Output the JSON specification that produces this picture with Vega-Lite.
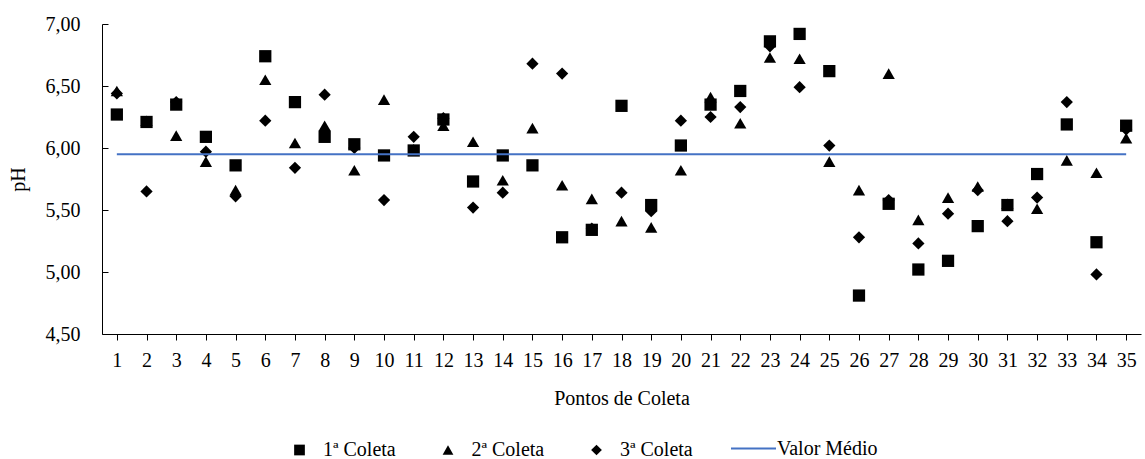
{
  "$schema": "https://vega.github.io/schema/vega-lite/v6.json",
  "width": 1039,
  "height": 310,
  "autosize": {"type": "none"},
  "padding": {"left": 102, "top": 24, "right": 4, "bottom": 125},
  "config": {
    "font": "Liberation Serif, serif",
    "view": {"stroke": null},
    "axis": {
      "grid": false,
      "domainColor": "black",
      "tickColor": "black",
      "labelColor": "black",
      "titleColor": "black",
      "labelFontSize": 20,
      "titleFontSize": 20,
      "titleFontWeight": "normal",
      "labelFont": "Liberation Serif, serif",
      "titleFont": "Liberation Serif, serif"
    },
    "legend": {
      "labelFont": "Liberation Serif, serif",
      "labelFontSize": 20,
      "labelColor": "black",
      "labelLimit": 300
    }
  },
  "layer": [
    {
      "data": {
        "values": [
          {"ponto": 1, "coleta": "1ª Coleta", "ph": 6.27}, {"ponto": 1, "coleta": "2ª Coleta", "ph": 6.46}, {"ponto": 1, "coleta": "3ª Coleta", "ph": 6.44},
          {"ponto": 2, "coleta": "1ª Coleta", "ph": 6.21}, {"ponto": 2, "coleta": "2ª Coleta", "ph": 6.22}, {"ponto": 2, "coleta": "3ª Coleta", "ph": 5.65},
          {"ponto": 3, "coleta": "1ª Coleta", "ph": 6.35}, {"ponto": 3, "coleta": "2ª Coleta", "ph": 6.10}, {"ponto": 3, "coleta": "3ª Coleta", "ph": 6.37},
          {"ponto": 4, "coleta": "1ª Coleta", "ph": 6.09}, {"ponto": 4, "coleta": "2ª Coleta", "ph": 5.89}, {"ponto": 4, "coleta": "3ª Coleta", "ph": 5.97},
          {"ponto": 5, "coleta": "1ª Coleta", "ph": 5.86}, {"ponto": 5, "coleta": "2ª Coleta", "ph": 5.66}, {"ponto": 5, "coleta": "3ª Coleta", "ph": 5.61},
          {"ponto": 6, "coleta": "1ª Coleta", "ph": 6.74}, {"ponto": 6, "coleta": "2ª Coleta", "ph": 6.55}, {"ponto": 6, "coleta": "3ª Coleta", "ph": 6.22},
          {"ponto": 7, "coleta": "1ª Coleta", "ph": 6.37}, {"ponto": 7, "coleta": "2ª Coleta", "ph": 6.04}, {"ponto": 7, "coleta": "3ª Coleta", "ph": 5.84},
          {"ponto": 8, "coleta": "1ª Coleta", "ph": 6.09}, {"ponto": 8, "coleta": "2ª Coleta", "ph": 6.18}, {"ponto": 8, "coleta": "3ª Coleta", "ph": 6.43},
          {"ponto": 9, "coleta": "1ª Coleta", "ph": 6.03}, {"ponto": 9, "coleta": "2ª Coleta", "ph": 5.82}, {"ponto": 9, "coleta": "3ª Coleta", "ph": 6.00},
          {"ponto": 10, "coleta": "1ª Coleta", "ph": 5.94}, {"ponto": 10, "coleta": "2ª Coleta", "ph": 6.39}, {"ponto": 10, "coleta": "3ª Coleta", "ph": 5.58},
          {"ponto": 11, "coleta": "1ª Coleta", "ph": 5.98}, {"ponto": 11, "coleta": "2ª Coleta", "ph": 5.99}, {"ponto": 11, "coleta": "3ª Coleta", "ph": 6.09},
          {"ponto": 12, "coleta": "1ª Coleta", "ph": 6.23}, {"ponto": 12, "coleta": "2ª Coleta", "ph": 6.18}, {"ponto": 12, "coleta": "3ª Coleta", "ph": 6.24},
          {"ponto": 13, "coleta": "1ª Coleta", "ph": 5.73}, {"ponto": 13, "coleta": "2ª Coleta", "ph": 6.05}, {"ponto": 13, "coleta": "3ª Coleta", "ph": 5.52},
          {"ponto": 14, "coleta": "1ª Coleta", "ph": 5.94}, {"ponto": 14, "coleta": "2ª Coleta", "ph": 5.74}, {"ponto": 14, "coleta": "3ª Coleta", "ph": 5.64},
          {"ponto": 15, "coleta": "1ª Coleta", "ph": 5.86}, {"ponto": 15, "coleta": "2ª Coleta", "ph": 6.16}, {"ponto": 15, "coleta": "3ª Coleta", "ph": 6.68},
          {"ponto": 16, "coleta": "1ª Coleta", "ph": 5.28}, {"ponto": 16, "coleta": "2ª Coleta", "ph": 5.70}, {"ponto": 16, "coleta": "3ª Coleta", "ph": 6.60},
          {"ponto": 17, "coleta": "1ª Coleta", "ph": 5.34}, {"ponto": 17, "coleta": "2ª Coleta", "ph": 5.59}, {"ponto": 17, "coleta": "3ª Coleta", "ph": 5.35},
          {"ponto": 18, "coleta": "1ª Coleta", "ph": 6.34}, {"ponto": 18, "coleta": "2ª Coleta", "ph": 5.41}, {"ponto": 18, "coleta": "3ª Coleta", "ph": 5.64},
          {"ponto": 19, "coleta": "1ª Coleta", "ph": 5.54}, {"ponto": 19, "coleta": "2ª Coleta", "ph": 5.36}, {"ponto": 19, "coleta": "3ª Coleta", "ph": 5.49},
          {"ponto": 20, "coleta": "1ª Coleta", "ph": 6.02}, {"ponto": 20, "coleta": "2ª Coleta", "ph": 5.82}, {"ponto": 20, "coleta": "3ª Coleta", "ph": 6.22},
          {"ponto": 21, "coleta": "1ª Coleta", "ph": 6.35}, {"ponto": 21, "coleta": "2ª Coleta", "ph": 6.41}, {"ponto": 21, "coleta": "3ª Coleta", "ph": 6.25},
          {"ponto": 22, "coleta": "1ª Coleta", "ph": 6.46}, {"ponto": 22, "coleta": "2ª Coleta", "ph": 6.20}, {"ponto": 22, "coleta": "3ª Coleta", "ph": 6.33},
          {"ponto": 23, "coleta": "1ª Coleta", "ph": 6.86}, {"ponto": 23, "coleta": "2ª Coleta", "ph": 6.73}, {"ponto": 23, "coleta": "3ª Coleta", "ph": 6.82},
          {"ponto": 24, "coleta": "1ª Coleta", "ph": 6.92}, {"ponto": 24, "coleta": "2ª Coleta", "ph": 6.72}, {"ponto": 24, "coleta": "3ª Coleta", "ph": 6.49},
          {"ponto": 25, "coleta": "1ª Coleta", "ph": 6.62}, {"ponto": 25, "coleta": "2ª Coleta", "ph": 5.89}, {"ponto": 25, "coleta": "3ª Coleta", "ph": 6.02},
          {"ponto": 26, "coleta": "1ª Coleta", "ph": 4.81}, {"ponto": 26, "coleta": "2ª Coleta", "ph": 5.66}, {"ponto": 26, "coleta": "3ª Coleta", "ph": 5.28},
          {"ponto": 27, "coleta": "1ª Coleta", "ph": 5.55}, {"ponto": 27, "coleta": "2ª Coleta", "ph": 6.60}, {"ponto": 27, "coleta": "3ª Coleta", "ph": 5.58},
          {"ponto": 28, "coleta": "1ª Coleta", "ph": 5.02}, {"ponto": 28, "coleta": "2ª Coleta", "ph": 5.42}, {"ponto": 28, "coleta": "3ª Coleta", "ph": 5.23},
          {"ponto": 29, "coleta": "1ª Coleta", "ph": 5.09}, {"ponto": 29, "coleta": "2ª Coleta", "ph": 5.60}, {"ponto": 29, "coleta": "3ª Coleta", "ph": 5.47},
          {"ponto": 30, "coleta": "1ª Coleta", "ph": 5.37}, {"ponto": 30, "coleta": "2ª Coleta", "ph": 5.69}, {"ponto": 30, "coleta": "3ª Coleta", "ph": 5.66},
          {"ponto": 31, "coleta": "1ª Coleta", "ph": 5.54}, {"ponto": 31, "coleta": "2ª Coleta", "ph": 5.55}, {"ponto": 31, "coleta": "3ª Coleta", "ph": 5.41},
          {"ponto": 32, "coleta": "1ª Coleta", "ph": 5.79}, {"ponto": 32, "coleta": "2ª Coleta", "ph": 5.51}, {"ponto": 32, "coleta": "3ª Coleta", "ph": 5.60},
          {"ponto": 33, "coleta": "1ª Coleta", "ph": 6.19}, {"ponto": 33, "coleta": "2ª Coleta", "ph": 5.90}, {"ponto": 33, "coleta": "3ª Coleta", "ph": 6.37},
          {"ponto": 34, "coleta": "1ª Coleta", "ph": 5.24}, {"ponto": 34, "coleta": "2ª Coleta", "ph": 5.80}, {"ponto": 34, "coleta": "3ª Coleta", "ph": 4.98},
          {"ponto": 35, "coleta": "1ª Coleta", "ph": 6.18}, {"ponto": 35, "coleta": "2ª Coleta", "ph": 6.08}, {"ponto": 35, "coleta": "3ª Coleta", "ph": 6.15}
        ]
      },
      "mark": {"type": "point", "filled": true, "size": 150, "opacity": 1, "color": "black"},
      "encoding": {
        "x": {
          "field": "ponto",
          "type": "ordinal",
          "scale": {"type": "point", "padding": 0.5},
          "axis": {
            "title": "Pontos de Coleta",
            "labelAngle": 0,
            "tickSize": 6,
            "labelPadding": 10,
            "titlePadding": 18
          }
        },
        "y": {
          "field": "ph",
          "type": "quantitative",
          "scale": {"domain": [4.5, 7.0], "nice": false, "zero": false},
          "axis": {
            "title": "pH",
            "values": [4.5, 5.0, 5.5, 6.0, 6.5, 7.0],
            "labelExpr": "replace(format(datum.value, '.2f'), '.', ',')",
            "tickSize": -6,
            "labelPadding": 28,
            "titlePadding": 17
          }
        },
        "shape": {
          "field": "coleta",
          "type": "nominal",
          "scale": {
            "domain": ["1ª Coleta", "2ª Coleta", "3ª Coleta"],
            "range": ["square", "triangle-up", "diamond"]
          },
          "legend": {
            "title": null,
            "orient": "none",
            "legendX": 187.5,
            "legendY": 416,
            "direction": "horizontal",
            "symbolSize": 115,
            "symbolFillColor": "black",
            "labelOffset": 13.5,
            "columnPadding": 41.5
          }
        }
      }
    },
    {
      "data": {"values": [{"ponto": 1, "ph": 5.95, "serie": "Valor Médio"}, {"ponto": 35, "ph": 5.95, "serie": "Valor Médio"}]},
      "mark": {"type": "line", "strokeWidth": 2},
      "encoding": {
        "x": {"field": "ponto", "type": "ordinal"},
        "y": {"field": "ph", "type": "quantitative"},
        "color": {
          "field": "serie",
          "type": "nominal",
          "scale": {"domain": ["Valor Médio"], "range": ["#4472C4"]},
          "legend": {
            "title": null,
            "orient": "none",
            "legendX": 628,
            "legendY": 401,
            "direction": "horizontal",
            "symbolType": "stroke",
            "symbolSize": 2025,
            "symbolStrokeWidth": 2,
            "labelOffset": 0
          }
        }
      }
    }
  ]
}
